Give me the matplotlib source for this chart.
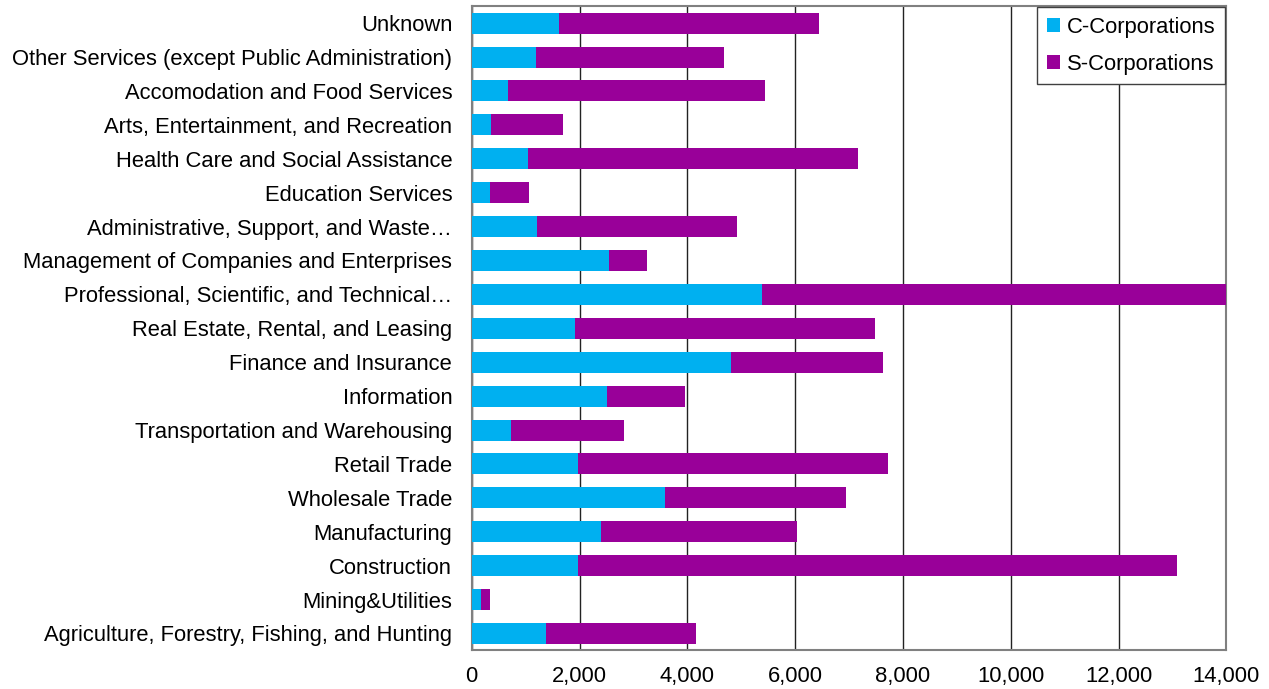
import numpy as np
import matplotlib.pyplot as plt

plt.rcParams['font.family'] = ['Liberation Sans', 'DejaVu Sans']

# categories from bottom to top
categories = [
    'Agriculture, Forestry, Fishing, and Hunting',
    'Mining&Utilities',
    'Construction',
    'Manufacturing',
    'Wholesale Trade',
    'Retail Trade',
    'Transportation and Warehousing',
    'Information',
    'Finance and Insurance',
    'Real Estate, Rental, and Leasing',
    'Professional, Scientific, and Technical\u2026',
    'Management of Companies and Enterprises',
    'Administrative, Support, and Waste\u2026',
    'Education Services',
    'Health Care and Social Assistance',
    'Arts, Entertainment, and Recreation',
    'Accomodation and Food Services',
    'Other Services (except Public Administration)',
    'Unknown',
]

c_corp = [1373, 173, 1972, 2393, 3586, 1972, 723, 2510, 4811, 1922,
          5380, 2542, 1206, 334, 1051, 358, 680, 1187, 1614]
s_corp = [2783, 167, 11108, 3637, 3352, 5746, 2109, 1448, 2826, 5555,
          8650, 711, 3717, 729, 6122, 1342, 4767, 3500, 4830]

xticks = [0, 2000, 4000, 6000, 8000, 10000, 12000, 14000]

fs = 15.8

fig, ax = plt.subplots(figsize=(12.69, 6.89), dpi=100)
fig.subplots_adjust(left=0.3717, right=0.9665, top=0.991, bottom=0.056)

y = np.arange(len(categories))
ax.barh(y, c_corp, height=0.62, color='#00B0F0', label='C-Corporations', zorder=3)
ax.barh(y, s_corp, left=c_corp, height=0.62, color='#990099', label='S-Corporations', zorder=3)

ax.set_xlim(0, 14000)
ax.set_ylim(-0.5, len(categories) - 0.5)
ax.set_yticks(y)
ax.set_yticklabels(categories, fontsize=fs)
ax.set_xticks(xticks)
ax.set_xticklabels([f'{v:,}' for v in xticks], fontsize=fs)
ax.tick_params(axis='x', length=0, pad=11)
ax.tick_params(axis='y', length=0, pad=14)

ax.grid(axis='x', color='#222222', linewidth=1, zorder=0)
for side in ['top', 'right', 'bottom', 'left']:
    ax.spines[side].set_color('#808080')
    ax.spines[side].set_linewidth(1.5)

leg = ax.legend(loc='upper right', fontsize=fs, frameon=True, fancybox=False,
                edgecolor='#404040', handlelength=0.6, handleheight=0.6,
                handletextpad=0.3, borderaxespad=0.05, labelspacing=0.7,
                borderpad=0.45, framealpha=1)
leg.get_frame().set_linewidth(1)

fig.savefig('out.png', dpi=100)
